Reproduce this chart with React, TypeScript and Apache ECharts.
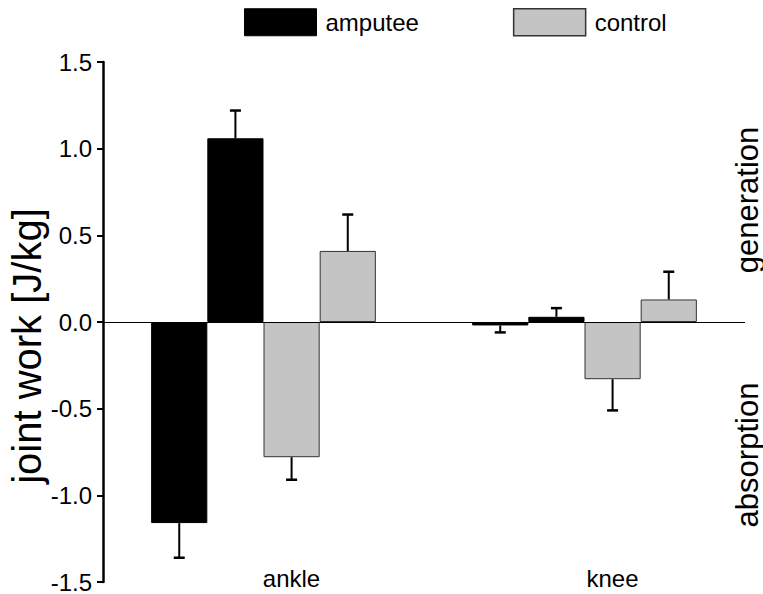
import React, { useEffect, useRef } from "react";
import * as echarts from "echarts";

const categories = ["ankle", "knee"];
const yTicks = [-1.5, -1.0, -0.5, 0.0, 0.5, 1.0, 1.5];
const yTitle = "joint work [J/kg]";
// values per category (ankle, knee) and error-bar end per category
const amputeeAbsorption = [-1.16, -0.02];
const amputeeAbsorptionErr = [-1.36, -0.06];
const amputeeGeneration = [1.06, 0.03];
const amputeeGenerationErr = [1.22, 0.08];
const controlAbsorption = [-0.78, -0.33];
const controlAbsorptionErr = [-0.91, -0.51];
const controlGeneration = [0.41, 0.13];
const controlGenerationErr = [0.62, 0.29];
const seriesNames = ["amputee", "amputee", "control", "control"];

const FONT = "'Liberation Sans', Arial, Helvetica, sans-serif";

export default function App() {
  const ref = useRef<HTMLDivElement>(null);
  useEffect(() => {
    document.body.style.margin = "0";
    if (!ref.current) return;
    const chart = echarts.init(ref.current, undefined, { renderer: "svg" });
    const values = [amputeeAbsorption, amputeeGeneration, controlAbsorption, controlGeneration];
    const errs = [amputeeAbsorptionErr, amputeeGenerationErr, controlAbsorptionErr, controlGenerationErr];
    const barFrac = 0.175;
    const styles = [
      { color: "#000000", borderColor: "#000000", borderWidth: 1 },
      { color: "#000000", borderColor: "#000000", borderWidth: 1 },
      { color: "#c4c4c4", borderColor: "#333333", borderWidth: 1 },
      { color: "#c4c4c4", borderColor: "#333333", borderWidth: 1 },
    ];
    const barSeries: any[] = values.map((v, i) => ({
      type: "bar",
      name: seriesNames[i],
      data: v,
      barWidth: "17.5%",
      barGap: "0%",
      itemStyle: styles[i],
      z: 2,
      ...(i === 0
        ? {
            markLine: {
              silent: true,
              symbol: "none",
              label: { show: false },
              lineStyle: { color: "#000", width: 1.2, type: "solid" },
              data: [{ yAxis: 0 }],
              z: 5,
            },
          }
        : {}),
    }));
    const errData: any[] = [];
    values.forEach((v, si) => {
      v.forEach((val, ci) => {
        errData.push([ci, val, errs[si][ci], si]);
      });
    });
    const errSeries = {
      type: "custom",
      name: "err",
      data: errData,
      z: 3,
      encode: { x: 0, y: [1, 2] },
      renderItem: (params: any, api: any) => {
        const ci = api.value(0);
        const si = api.value(3);
        const catW = api.size([1, 0])[0];
        const bw = catW * barFrac;
        const p0 = api.coord([ci, api.value(1)]);
        const p1 = api.coord([ci, api.value(2)]);
        const x = p0[0] + (si - 1.5) * bw;
        const cap = 5.5;
        return {
          type: "group",
          children: [
            { type: "line", shape: { x1: x, y1: p0[1], x2: x, y2: p1[1] }, style: { stroke: "#000", lineWidth: 2 } },
            { type: "line", shape: { x1: x - cap, y1: p1[1], x2: x + cap, y2: p1[1] }, style: { stroke: "#000", lineWidth: 2.5 } },
          ],
        };
      },
    };
    chart.setOption({
      animation: false,
      textStyle: { fontFamily: FONT },
      legend: {
        data: [
          { name: "amputee", itemStyle: { color: "#000", borderColor: "#000", borderWidth: 1 } },
          { name: "control", itemStyle: { color: "#c4c4c4", borderColor: "#333", borderWidth: 1.5 } },
        ],
        left: 244,
        top: 8,
        padding: 0,
        itemWidth: 72,
        itemHeight: 27,
        itemGap: 94,
        selectedMode: false,
        icon: "rect",
        textStyle: { fontSize: 24, color: "#000", fontFamily: FONT, padding: [0, 0, 0, 4] },
      },
      grid: { left: 103, right: 18, top: 62, bottom: 12, containLabel: false, outerBoundsMode: "none" },
      xAxis: {
        type: "category",
        data: categories,
        axisLine: { show: false },
        axisTick: { show: false },
        axisLabel: { fontSize: 24, lineHeight: 22, color: "#000", margin: -15, padding: [0, 0, 0, 56], fontFamily: FONT },
      },
      yAxis: {
        type: "value",
        min: yTicks[0],
        max: yTicks[yTicks.length - 1],
        interval: 0.5,
        splitLine: { show: false },
        axisLine: { show: true, lineStyle: { color: "#000", width: 2.5 } },
        axisTick: { show: true, length: 6, lineStyle: { color: "#000", width: 2 } },
        axisLabel: { fontSize: 24, lineHeight: 20, color: "#000", margin: 11, fontFamily: FONT, formatter: (v: number) => v.toFixed(1) },
      },
      graphic: [
        { type: "text", x: 27, y: 346, rotation: Math.PI / 2, style: { text: yTitle, fontSize: 40, lineHeight: 40, fill: "#000", fontFamily: FONT, align: "center", verticalAlign: "middle" } },
        { type: "text", x: 747, y: 200, rotation: Math.PI / 2, style: { text: "generation", fontSize: 31, fill: "#000", fontFamily: FONT, align: "center", verticalAlign: "middle" } },
        { type: "text", x: 747, y: 455, rotation: Math.PI / 2, style: { text: "absorption", fontSize: 31, fill: "#000", fontFamily: FONT, align: "center", verticalAlign: "middle" } },
      ],
      series: [...barSeries, errSeries],
    });
    return () => chart.dispose();
  }, []);
  return <div ref={ref} style={{ width: 763, height: 594 }} />;
}
